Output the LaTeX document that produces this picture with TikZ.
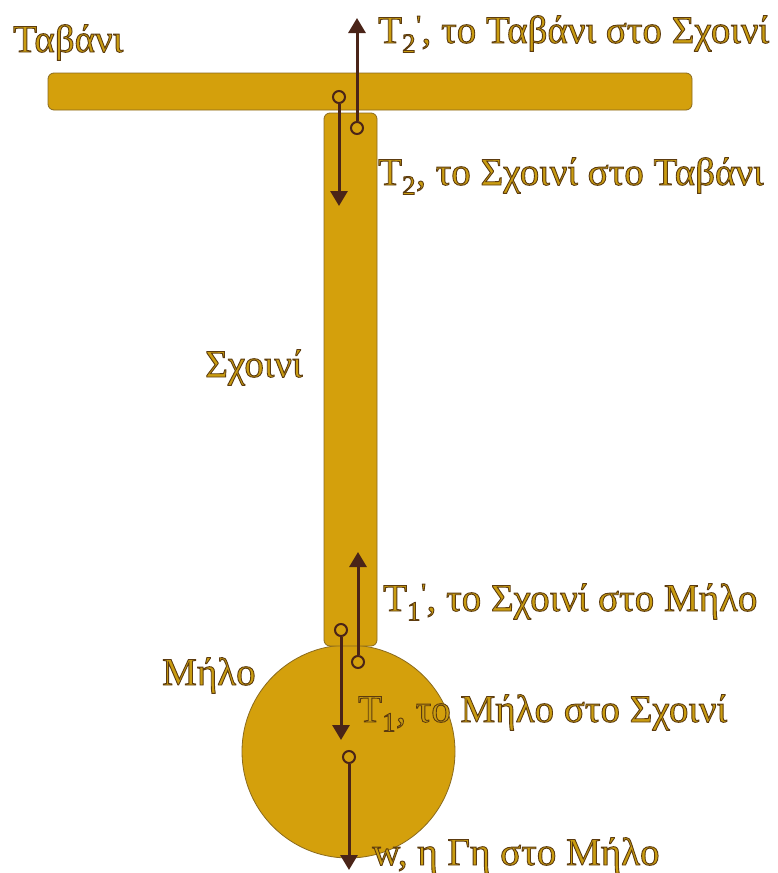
\documentclass[tikz,border=0pt]{standalone}
\usepackage{xcolor}
\usepackage{fontspec}
\setmainfont{Liberation Serif}
\usepackage{tikz}
\usetikzlibrary{arrows.meta,positioning}

\definecolor{bodyfill}{HTML}{D4A00C}
\definecolor{bodyline}{HTML}{8A6A1E}
\definecolor{forcecol}{HTML}{4A2418}
\definecolor{txtgold}{HTML}{C99C10}
\newcommand{\gilt}[1]{\special{pdf:literal direct 2 Tr 0.9 w 0.36 0.23 0.06 RG}#1\special{pdf:literal direct 0 Tr}}

\begin{document}
\begin{tikzpicture}[
  x=1pt, y=-1pt,
  every node/.style={font=\fontsize{39}{44}\selectfont},
  body/.style={draw=bodyline, line width=0.8pt, fill=bodyfill, rounded corners=6pt, inner sep=0pt},
  pin/.style={circle, draw=forcecol, line width=2pt, fill=bodyfill, minimum size=12pt, inner sep=0pt},
  force/.style={-{Triangle[length=15pt,width=17pt]}, draw=forcecol, line width=3pt},
  lbl/.style={anchor=base west, inner sep=0pt, text=txtgold}
]
\useasboundingbox (0,0) rectangle (778,873);

\node[body, minimum width=644pt, minimum height=37pt] (ceiling) at (370,91.5) {};
\node[body, circle, minimum size=213pt] (apple) at (348.5,751.5) {};
\node[body, minimum width=53pt, minimum height=533pt] (rope) at (350.5,379.5) {};

\node[pin] (p2up) at (357,128) {};
\node[pin] (p2dn) at (339,97) {};
\node[pin] (p1up) at (358,662) {};
\node[pin] (p1dn) at (341,630) {};
\node[pin] (pw) at (349,757) {};

\coordinate (t2up) at (357,18);
\coordinate (t2dn) at (339,206);
\coordinate (t1up) at (358,552);
\coordinate (t1dn) at (341,740);
\coordinate (tw) at (349,870);

\draw[force] (p2up) -- (t2up);
\draw[force] (p2dn) -- (t2dn);
\draw[force] (p1up) -- (t1up);
\draw[force] (p1dn) -- (t1dn);
\draw[force] (pw) -- (tw);

\node[lbl] (lceil) at (13,52) {\gilt{Ταβάνι}};
\node[lbl] (lt2up) at (378,43) {\gilt{T\textsubscript{2}\textsuperscript{\textquotesingle}, το Ταβάνι στο Σχοινί}};
\node[lbl] (lt2dn) at (378,185) {\gilt{T\textsubscript{2}, το Σχοινί στο Ταβάνι}};
\node[lbl] (lrope) at (205,377) {\gilt{Σχοινί}};
\node[lbl] (lt1up) at (383,611) {\gilt{T\textsubscript{1}\textsuperscript{\textquotesingle}, το Σχοινί στο Μήλο}};
\node[lbl] (lapple) at (162,685) {\gilt{Μήλο}};
\node[lbl] (lt1dn) at (358,722) {\gilt{T\textsubscript{1}, το Μήλο στο Σχοινί}};
\node[lbl] (lw) at (372,865) {\gilt{w, η Γη στο Μήλο}};
\end{tikzpicture}
\end{document}
